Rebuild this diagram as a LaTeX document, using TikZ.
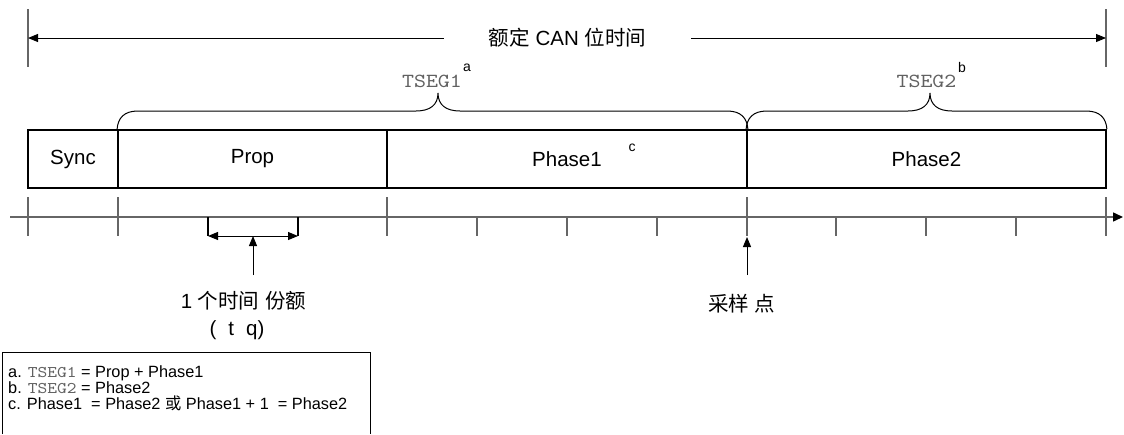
\documentclass[tikz,border=0pt]{standalone}
\usepackage{fontspec}
\setmainfont{Liberation Sans}
\newfontfamily\cjk{Noto Sans CJK SC}
\newfontfamily\cour[Extension=.otf,FakeStretch=1.14]{lmmono10-regular}
\usetikzlibrary{arrows.meta}
\begin{document}
\begin{tikzpicture}[x=1pt,y=1pt,
 seg/.style={draw=black,line width=1.8pt,minimum height=58pt,inner sep=0pt,font=\fontsize{20.5}{24}\selectfont},
 lbl/.style={font=\fontsize{20.5}{24}\selectfont,inner sep=0pt},
 mono/.style={font=\fontsize{20}{24}\cour,text=black!62,inner sep=0pt},
 sup/.style={font=\fontsize{14}{16}\selectfont,inner sep=0pt},
 axisln/.style={draw=black!60,line width=1.5pt},
 thinarrow/.style={draw=black,line width=1pt,-{Triangle[length=10pt,width=8pt]}},
 brace/.style={draw=black,line width=1pt},
 note/.style={font=\fontsize{16.3}{16}\selectfont,inner sep=0pt,anchor=base west},
]
\useasboundingbox (0,0) rectangle (1124,-434);

% title and end bars
\node[lbl,inner xsep=45pt] (title) at (567.5,-38) {{\cjk 额定} CAN {\cjk 位时间}};
\coordinate (LB) at (28,-38);
\coordinate (RB) at (1106,-38);
\draw[axisln] (28,-9) -- (28,-67);
\draw[axisln] (1106,-9) -- (1106,-67);
\draw[thinarrow] (title.west) -- (LB);
\draw[thinarrow] (title.east) -- (RB);

% segments
\node[seg,minimum width=90pt] (sync) at (73,-159) {Sync};
\node[seg,minimum width=269pt] (prop) at (252.5,-159) {Prop};
\node[seg,minimum width=360pt] (ph1) at (567,-159) {Phase1};
\node[seg,minimum width=359pt] (ph2) at (926.5,-159) {Phase2};
\node[sup] (supc) at (632,-148) {c};

% braces
\draw[brace] (prop.north west) .. controls (118,-118) and (124,-111) .. (138,-111)
  -- (416,-111) .. controls (430,-111) and (438,-105) .. (438,-93)
  .. controls (438,-105) and (446,-111) .. (460,-111)
  -- (727,-111) .. controls (741,-111) and (747,-118) .. (ph1.north east);
\draw[brace] (ph2.north west) .. controls (747,-118) and (753,-111) .. (767,-111)
  -- (908,-111) .. controls (922,-111) and (930,-105) .. (930,-93)
  .. controls (930,-105) and (938,-111) .. (952,-111)
  -- (1086,-111) .. controls (1100,-111) and (1106,-118) .. (ph2.north east);
\node[mono] (tseg1) at (432,-81) {TSEG1};
\node[sup] (supa) at (467,-68) {a};
\node[mono] (tseg2) at (926.5,-81) {TSEG2};
\node[sup] (supb) at (962,-67) {b};

% time axis
\coordinate (A0) at (10,-217);
\coordinate (A1) at (1123,-217);
\draw[axisln,-{Triangle[length=10pt,width=9pt,color=black]}] (A0) -- (A1);
\foreach \x in {28,118,387,747,1106} \draw[axisln] (\x,-197) -- (\x,-236);
\foreach \x in {477,567,657,836,926,1016} \draw[axisln] (\x,-217) -- (\x,-236);

% time quantum
\coordinate (T0) at (208,-236);
\coordinate (T1) at (298,-236);
\coordinate (TQm) at (253,-236);
\coordinate (TQa) at (253,-275);
\draw[line width=1.2pt] (208,-217) -- (T0);
\draw[line width=1.2pt] (298,-217) -- (T1);
\draw[line width=1pt,{Triangle[length=10pt,width=8pt]}-{Triangle[length=10pt,width=8pt]}] (T0) -- (T1);
\draw[thinarrow] (TQa) -- (TQm);
\node[lbl] (tqlbl) at (243.5,-301) {1 {\cjk 个时间} {\cjk 份额}};
\node[lbl] (tqsym) at (237,-330) {(\hspace{12pt}t\hspace{12pt}q)};

% sample point
\coordinate (SPa) at (747,-275);
\coordinate (SPt) at (747,-237);
\draw[thinarrow] (SPa) -- (SPt);
\node[lbl] (sp) at (741.6,-304) {{\cjk 采样} {\cjk 点}};

% footnotes
\draw[line width=1pt] (2,-434) -- (2,-352) -- (370,-352) -- (370,-434);
\node[note] (n1) at (8,-377) {a. {\fontsize{16.3}{16}\cour\color{black!62}TSEG1} = Prop + Phase1};
\node[note] (n2) at (8,-393) {b. {\fontsize{16.3}{16}\cour\color{black!62}TSEG2} = Phase2};
\node[note] (n3) at (8,-409) {c. Phase1\ \ = Phase2 {\cjk 或} Phase1 + 1\ \ = Phase2};
\end{tikzpicture}
\end{document}
